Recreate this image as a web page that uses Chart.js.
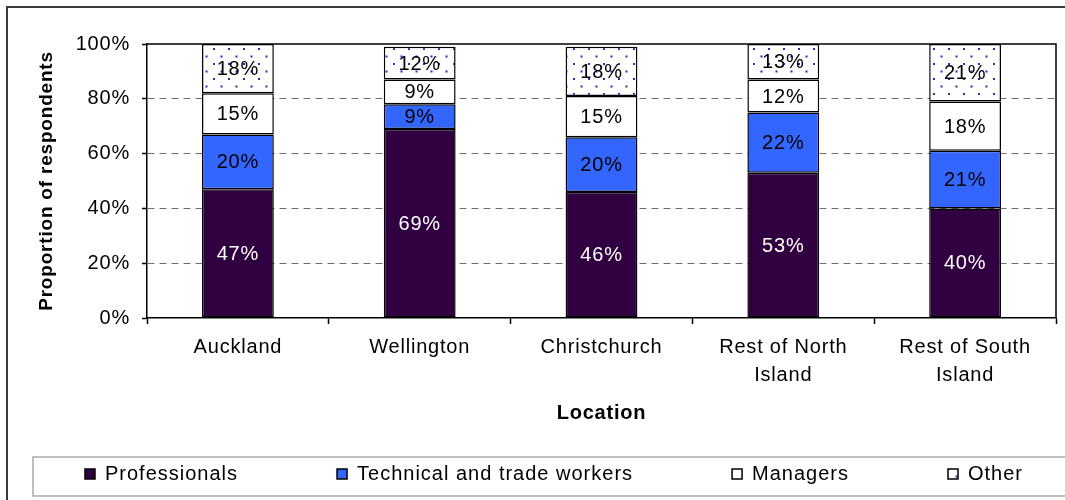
<!DOCTYPE html>
<html lang="en">
<head>
    <meta charset="UTF-8">
    <title>Occupation by location</title>
    <style>
        html, body { margin: 0; padding: 0; background: #fff; }
        #chart-container { width: 1065px; height: 500px; }
    </style>
</head>
<body>
    <div id="chart-container">
        <canvas id="occChart"></canvas>
    </div>

    <script src="https://cdn.jsdelivr.net/npm/chart.js"></script>
    <script>
        // values (percent of respondents)
        const locations = ['Auckland', 'Wellington', 'Christchurch', ['Rest of North', 'Island'], ['Rest of South', 'Island']];
        const professionals = [47, 69, 46, 53, 40];
        const technical = [20, 9, 20, 22, 21];
        const managers = [15, 9, 15, 12, 18];
        const other = [18, 12, 18, 13, 21];
        const yTicks = [0, 20, 40, 60, 80, 100];

        const FONT = "'Liberation Sans', Arial, sans-serif";

        // dotted fill for "Other"
        function dotPattern() {
            const c = document.createElement('canvas');
            c.width = 15; c.height = 15;
            const g = c.getContext('2d');
            g.fillStyle = '#fff';
            g.fillRect(0, 0, 15, 15);
            g.fillStyle = '#2b2bb4';
            g.fillRect(3, 3, 2, 2);
            g.fillRect(10.5, 10.5, 2, 2);
            return g.createPattern(c, 'repeat');
        }

        // the source text is set a little wider than plain Arial
        const spacing = {
            id: 'spacing',
            beforeLayout(chart) { chart.ctx.letterSpacing = '0.8px'; },
            beforeDraw(chart) { chart.ctx.letterSpacing = '0.8px'; }
        };

        // percentage text inside each segment
        const segmentLabels = {
            id: 'segmentLabels',
            afterDatasetsDraw(chart) {
                const ctx = chart.ctx;
                ctx.save();
                ctx.font = '20px ' + FONT;
                ctx.textAlign = 'center';
                ctx.textBaseline = 'middle';
                chart.data.datasets.forEach((ds, i) => {
                    chart.getDatasetMeta(i).data.forEach((bar, j) => {
                        const p = bar.getProps(['x', 'y', 'base'], true);
                        ctx.fillStyle = i === 0 ? '#fff' : '#000';
                        ctx.fillText(ds.data[j] + '%', p.x, (p.y + p.base) / 2 + 1);
                    });
                });
                ctx.restore();
            }
        };

        // outer frame, plot frame and boxed legend
        const frames = {
            id: 'frames',
            afterDraw(chart) {
                const ctx = chart.ctx;
                const a = chart.chartArea;
                ctx.save();
                ctx.strokeStyle = '#3a3a3a';
                ctx.lineWidth = 2;
                ctx.beginPath();
                ctx.moveTo(7, chart.height + 2);
                ctx.lineTo(7, 7);
                ctx.lineTo(chart.width + 2, 7);
                ctx.stroke();

                ctx.strokeStyle = '#000';
                ctx.lineWidth = 1.5;
                ctx.beginPath();
                ctx.moveTo(a.left, a.top);
                ctx.lineTo(a.right, a.top);
                ctx.lineTo(a.right, a.bottom);
                ctx.stroke();

                ctx.strokeStyle = '#aaa';
                ctx.lineWidth = 1.5;
                ctx.strokeRect(33, 457, chart.width, 39);

                ctx.font = '20px ' + FONT;
                ctx.letterSpacing = '1px';
                ctx.textBaseline = 'middle';
                ctx.textAlign = 'left';
                const items = chart.data.datasets.map(ds => ({
                    label: ds.label, fill: ds.backgroundColor, w: 20 + ctx.measureText(ds.label).width
                }));
                const gap = 99;
                const total = items.reduce((s, it) => s + it.w, 0) + gap * (items.length - 1);
                let x = 554 - total / 2;
                const cy = 474;
                items.forEach(it => {
                    ctx.fillStyle = it.fill;
                    ctx.fillRect(x, cy - 5, 10, 10);
                    ctx.strokeStyle = '#000';
                    ctx.lineWidth = 1.5;
                    ctx.strokeRect(x, cy - 5, 10, 10);
                    ctx.fillStyle = '#000';
                    ctx.fillText(it.label, x + 20, cy);
                    x += it.w + gap;
                });
                ctx.restore();
            }
        };

        const dots = dotPattern();
        const ctx = document.getElementById('occChart').getContext('2d');
        new Chart(ctx, {
            type: 'bar',
            data: {
                labels: locations,
                datasets: [
                    { label: 'Professionals', data: professionals, backgroundColor: '#300040' },
                    { label: 'Technical and trade workers', data: technical, backgroundColor: '#3366ff' },
                    { label: 'Managers', data: managers, backgroundColor: '#ffffff' },
                    { label: 'Other', data: other, backgroundColor: dots }
                ].map(d => Object.assign(d, {
                    borderColor: '#000', borderWidth: 1.5, borderSkipped: false,
                    barPercentage: 0.395, categoryPercentage: 1
                }))
            },
            options: {
                responsive: true,
                maintainAspectRatio: false,
                animation: false,
                layout: { padding: { top: 44, right: 9, bottom: 45, left: 0 } },
                plugins: {
                    legend: { display: false },
                    tooltip: { enabled: false }
                },
                scales: {
                    x: {
                        stacked: true,
                        afterFit: s => { s.height = 137; },
                        grid: { offset: true, drawOnChartArea: false, tickLength: 6, tickColor: '#000', tickWidth: 1.5 },
                        border: { color: '#000', width: 1.5 },
                        ticks: { color: '#000', padding: 9, maxRotation: 0, font: { family: FONT, size: 20, lineHeight: 1.4 } },
                        title: { display: true, text: 'Location', color: '#000', padding: { top: 0, bottom: 30 }, font: { family: FONT, size: 20, weight: 'bold' } }
                    },
                    y: {
                        stacked: true,
                        min: 0,
                        max: 100,
                        afterFit: s => { s.width = 147; },
                        afterBuildTicks: s => { s.ticks = yTicks.map(v => ({ value: v })); },
                        grid: {
                            color: c => (c.tick.value > 0 && c.tick.value < 100) ? '#707070' : 'rgba(0,0,0,0)',
                            lineWidth: 1,
                            tickLength: 5,
                            tickColor: '#000',
                            tickBorderDash: [],
                            tickWidth: 1.5
                        },
                        border: { color: '#000', width: 1.5, dash: [7, 5] },
                        ticks: { color: '#000', padding: 12, callback: v => v + '%', font: { family: FONT, size: 20 } },
                        title: { display: true, text: 'Proportion of respondents', color: '#000', padding: { top: 35, bottom: 0 }, font: { family: FONT, size: 19, weight: 'bold' } }
                    }
                }
            },
            plugins: [spacing, segmentLabels, frames]
        });
    </script>
</body>
</html>
